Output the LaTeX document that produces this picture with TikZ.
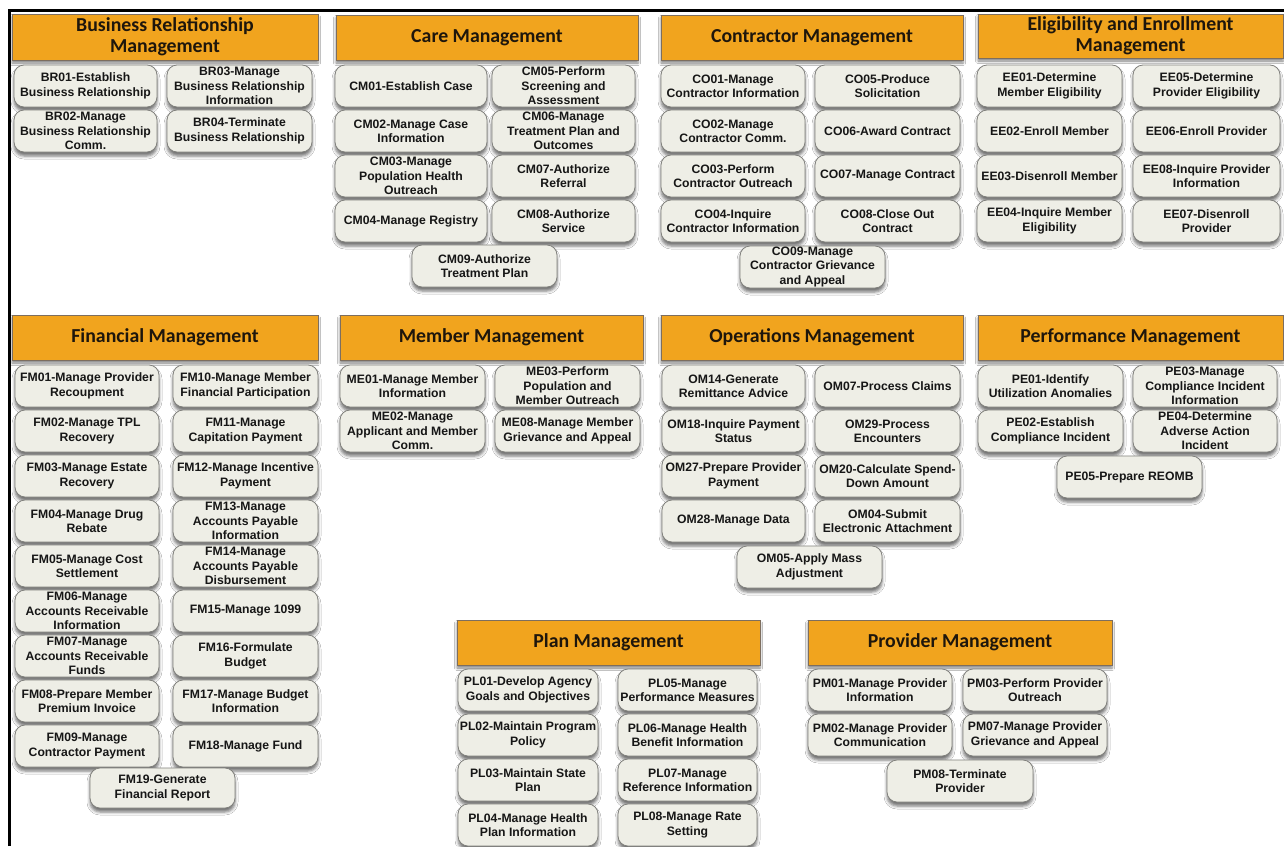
\documentclass[tikz,border=0pt]{standalone}
\usepackage{fontspec}
\setmainfont{Liberation Sans}
\newfontfamily\catfont{Carlito}
\usetikzlibrary{shadows.blur}
\definecolor{catorange}{RGB}{241,164,30}
\definecolor{catedge}{RGB}{125,110,95}
\definecolor{cattext}{RGB}{30,22,12}
\definecolor{boxfill}{RGB}{238,238,230}
\definecolor{boxedge}{RGB}{128,128,124}
\definecolor{boxtext}{RGB}{22,22,22}
\begin{document}
\begin{tikzpicture}[x=1pt,y=-1pt,
  catbar/.style={draw=catedge, line width=0.6pt, fill=catorange, minimum height=45pt,
    inner sep=1pt, align=center, text=cattext,
    font=\catfont\bfseries\fontsize{19.8}{21}\selectfont,
    blur shadow={shadow xshift=0pt, shadow yshift=-3pt, shadow blur radius=2.5pt, shadow opacity=50}},
  fnbox/.style={draw=boxedge, line width=0.8pt, fill=boxfill, rounded corners=10pt,
    minimum height=42pt, inner sep=1pt, align=center, text=boxtext,
    font=\bfseries\fontsize{12.2}{14.4}\selectfont,
    blur shadow={shadow xshift=0pt, shadow yshift=-4pt, shadow blur radius=3pt, shadow opacity=55}},
  bw/.style={minimum width=#1pt},
]
\useasboundingbox (0,0) rectangle (1284,846);
\fill[white] (0,0) rectangle (1284,846);

% frame lines
\coordinate (frameBL) at (9.5,846);
\coordinate (frameTL) at (9.5,10.5);
\coordinate (frameTR) at (1284,10.5);
\draw[line width=3pt] (frameBL) -- (frameTL) -- (frameTR);

% ---------- Business Relationship Management ----------
\node[catbar, bw=306, minimum height=46pt] (hBR) at (165,37) {Business Relationship\\Management};
\node[fnbox, bw=143] (br01) at (85.5,86)  {BR01-Establish\\Business Relationship};
\node[fnbox, bw=143] (br02) at (85.5,131) {BR02-Manage\\Business Relationship\\Comm.};
\node[fnbox, bw=145] (br03) at (239.5,86)  {BR03-Manage\\Business Relationship\\Information};
\node[fnbox, bw=145] (br04) at (239.5,131) {BR04-Terminate\\Business Relationship};

% ---------- Care Management ----------
\node[catbar, bw=302] (hCM) at (487,37.5) {Care Management};
\node[fnbox, bw=152] (cm01) at (411,86)  {CM01-Establish Case};
\node[fnbox, bw=152] (cm02) at (411,131) {CM02-Manage Case\\Information};
\node[fnbox, bw=152] (cm03) at (411,176) {CM03-Manage\\Population Health\\Outreach};
\node[fnbox, bw=152] (cm04) at (411,221) {CM04-Manage Registry};
\node[fnbox, bw=143] (cm05) at (563.5,86)  {CM05-Perform\\Screening and\\Assessment};
\node[fnbox, bw=143] (cm06) at (563.5,131) {CM06-Manage\\Treatment Plan and\\Outcomes};
\node[fnbox, bw=143] (cm07) at (563.5,176) {CM07-Authorize\\Referral};
\node[fnbox, bw=143] (cm08) at (563.5,221) {CM08-Authorize\\Service};
\node[fnbox, bw=145] (cm09) at (484.5,266) {CM09-Authorize\\Treatment Plan};

% ---------- Contractor Management ----------
\node[catbar, bw=302] (hCO) at (812,37.5) {Contractor Management};
\node[fnbox, bw=144] (co01) at (733,86)  {CO01-Manage\\Contractor Information};
\node[fnbox, bw=144] (co02) at (733,131) {CO02-Manage\\Contractor Comm.};
\node[fnbox, bw=144] (co03) at (733,176) {CO03-Perform\\Contractor Outreach};
\node[fnbox, bw=144] (co04) at (733,221) {CO04-Inquire\\Contractor Information};
\node[fnbox, bw=145] (co05) at (887.5,86)  {CO05-Produce\\Solicitation};
\node[fnbox, bw=145] (co06) at (887.5,131) {CO06-Award Contract};
\node[fnbox, bw=145] (co07) at (887.5,176) {CO07-Manage Contract};
\node[fnbox, bw=145] (co08) at (887.5,221) {CO08-Close Out\\Contract};
\node[fnbox, bw=145] (co09) at (812.5,267) {CO09-Manage\\Contractor Grievance\\and Appeal};

% ---------- Eligibility and Enrollment Management ----------
\node[catbar, bw=305, minimum height=44pt] (hEE) at (1130.5,36) {Eligibility and Enrollment\\Management};
\node[fnbox, bw=145] (ee01) at (1049.5,86)  {EE01-Determine\\Member Eligibility};
\node[fnbox, bw=145] (ee02) at (1049.5,131) {EE02-Enroll Member};
\node[fnbox, bw=145] (ee03) at (1049.5,176) {EE03-Disenroll Member};
\node[fnbox, bw=145] (ee04) at (1049.5,221) {EE04-Inquire Member\\Eligibility};
\node[fnbox, bw=147] (ee05) at (1206.5,86)  {EE05-Determine\\Provider Eligibility};
\node[fnbox, bw=147] (ee06) at (1206.5,131) {EE06-Enroll Provider};
\node[fnbox, bw=147] (ee08) at (1206.5,176) {EE08-Inquire Provider\\Information};
\node[fnbox, bw=147] (ee07) at (1206.5,221) {EE07-Disenroll\\Provider};

% ---------- Financial Management ----------
\node[catbar, bw=306] (hFM) at (165,337.5) {Financial Management};
\node[fnbox, bw=144] (fm01) at (87,386) {FM01-Manage Provider\\Recoupment};
\node[fnbox, bw=144] (fm02) at (87,431) {FM02-Manage TPL\\Recovery};
\node[fnbox, bw=144] (fm03) at (87,476) {FM03-Manage Estate\\Recovery};
\node[fnbox, bw=144] (fm04) at (87,521) {FM04-Manage Drug\\Rebate};
\node[fnbox, bw=144] (fm05) at (87,566) {FM05-Manage Cost\\Settlement};
\node[fnbox, bw=144] (fm06) at (87,611) {FM06-Manage\\Accounts Receivable\\Information};
\node[fnbox, bw=144] (fm07) at (87,656) {FM07-Manage\\Accounts Receivable\\Funds};
\node[fnbox, bw=144] (fm08) at (87,701) {FM08-Prepare Member\\Premium Invoice};
\node[fnbox, bw=144] (fm09) at (87,746) {FM09-Manage\\Contractor Payment};
\node[fnbox, bw=145] (fm10) at (245.5,386) {FM10-Manage Member\\Financial Participation};
\node[fnbox, bw=145] (fm11) at (245.5,431) {FM11-Manage\\Capitation Payment};
\node[fnbox, bw=145] (fm12) at (245.5,476) {FM12-Manage Incentive\\Payment};
\node[fnbox, bw=145] (fm13) at (245.5,521) {FM13-Manage\\Accounts Payable\\Information};
\node[fnbox, bw=145] (fm14) at (245.5,566) {FM14-Manage\\Accounts Payable\\Disbursement};
\node[fnbox, bw=145] (fm15) at (245.5,611) {FM15-Manage 1099};
\node[fnbox, bw=145] (fm16) at (245.5,656) {FM16-Formulate\\Budget};
\node[fnbox, bw=145] (fm17) at (245.5,701) {FM17-Manage Budget\\Information};
\node[fnbox, bw=145] (fm18) at (245.5,746) {FM18-Manage Fund};
\node[fnbox, bw=145, minimum height=40pt] (fm19) at (162.5,788) {FM19-Generate\\Financial Report};

% ---------- Member Management ----------
\node[catbar, bw=303] (hME) at (491.5,337.5) {Member Management};
\node[fnbox, bw=145] (me01) at (412.5,386) {ME01-Manage Member\\Information};
\node[fnbox, bw=145] (me02) at (412.5,431) {ME02-Manage\\Applicant and Member\\Comm.};
\node[fnbox, bw=145] (me03) at (567.5,386) {ME03-Perform\\Population and\\Member Outreach};
\node[fnbox, bw=145] (me08) at (567.5,431) {ME08-Manage Member\\Grievance and Appeal};

% ---------- Operations Management ----------
\node[catbar, bw=302] (hOM) at (812,337.5) {Operations Management};
\node[fnbox, bw=143] (om14) at (733.5,386) {OM14-Generate\\Remittance Advice};
\node[fnbox, bw=143] (om18) at (733.5,431) {OM18-Inquire Payment\\Status};
\node[fnbox, bw=143] (om27) at (733.5,476) {OM27-Prepare Provider\\Payment};
\node[fnbox, bw=143] (om28) at (733.5,521) {OM28-Manage Data};
\node[fnbox, bw=145] (om07) at (887.5,386) {OM07-Process Claims};
\node[fnbox, bw=145] (om29) at (887.5,431) {OM29-Process\\Encounters};
\node[fnbox, bw=145] (om20) at (887.5,476) {OM20-Calculate Spend-\\Down Amount};
\node[fnbox, bw=145] (om04) at (887.5,521) {OM04-Submit\\Electronic Attachment};
\node[fnbox, bw=145] (om05) at (809.5,567) {OM05-Apply Mass\\Adjustment};

% ---------- Performance Management ----------
\node[catbar, bw=305] (hPE) at (1130.5,337.5) {Performance Management};
\node[fnbox, bw=145] (pe01) at (1050.5,386) {PE01-Identify\\Utilization Anomalies};
\node[fnbox, bw=145] (pe02) at (1050.5,431) {PE02-Establish\\Compliance Incident};
\node[fnbox, bw=144] (pe03) at (1205,386) {PE03-Manage\\Compliance Incident\\Information};
\node[fnbox, bw=144] (pe04) at (1205,431) {PE04-Determine\\Adverse Action\\Incident};
\node[fnbox, bw=145] (pe05) at (1129.5,477) {PE05-Prepare REOMB};

% ---------- Plan Management ----------
\node[catbar, bw=303] (hPL) at (608.5,642.5) {Plan Management};
\node[fnbox, bw=140] (pl01) at (528,690) {PL01-Develop Agency\\Goals and Objectives};
\node[fnbox, bw=140] (pl02) at (528,735) {PL02-Maintain Program\\Policy};
\node[fnbox, bw=140] (pl03) at (528,780) {PL03-Maintain State\\Plan};
\node[fnbox, bw=140] (pl04) at (528,825) {PL04-Manage Health\\Plan Information};
\node[fnbox, bw=139] (pl05) at (687.5,690) {PL05-Manage\\Performance Measures};
\node[fnbox, bw=139] (pl06) at (687.5,735) {PL06-Manage Health\\Benefit Information};
\node[fnbox, bw=139] (pl07) at (687.5,780) {PL07-Manage\\Reference Information};
\node[fnbox, bw=139] (pl08) at (687.5,825) {PL08-Manage Rate\\Setting};

% ---------- Provider Management ----------
\node[catbar, bw=304] (hPM) at (960,642.5) {Provider Management};
\node[fnbox, bw=144] (pm01) at (880,690) {PM01-Manage Provider\\Information};
\node[fnbox, bw=144] (pm02) at (880,735) {PM02-Manage Provider\\Communication};
\node[fnbox, bw=144] (pm03) at (1035,690) {PM03-Perform Provider\\Outreach};
\node[fnbox, bw=144] (pm07) at (1035,735) {PM07-Manage Provider\\Grievance and Appeal};
\node[fnbox, bw=146] (pm08) at (960,781) {PM08-Terminate\\Provider};
\end{tikzpicture}
\end{document}
